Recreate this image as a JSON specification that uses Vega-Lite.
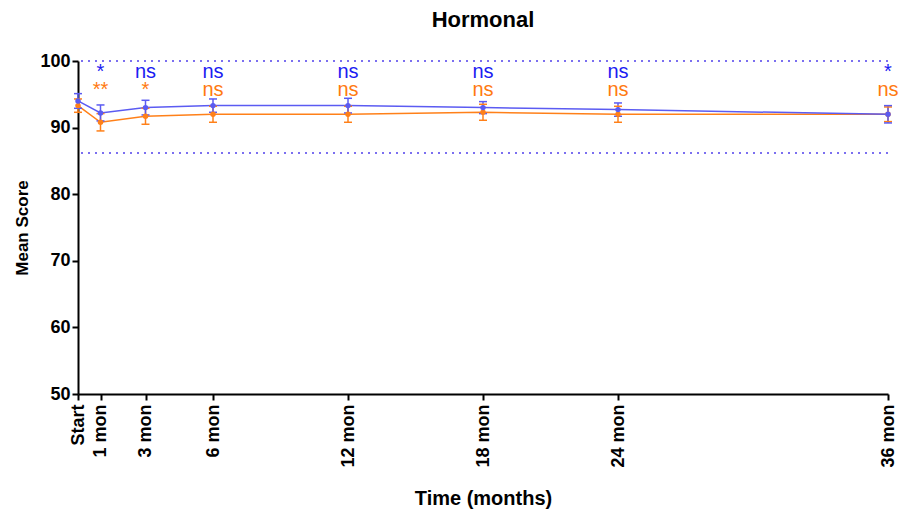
{
  "$schema": "https://vega.github.io/schema/vega-lite/v6.json",
  "width": 810,
  "height": 333,
  "autosize": {"type": "none"},
  "padding": {"left": 78, "top": 61, "right": 17, "bottom": 119},
  "background": "white",
  "title": {"text": "Hormonal", "fontSize": 22, "font": "Liberation Sans", "fontWeight": "bold", "color": "black", "anchor": "middle", "offset": 20},
  "resolve": {"scale": {"color": "independent"}},
  "config": {
    "view": {"stroke": null},
    "font": "Liberation Sans",
    "axis": {
      "grid": false,
      "domainColor": "black",
      "domainWidth": 2,
      "tickColor": "black",
      "tickWidth": 2,
      "tickSize": 6,
      "labelColor": "black",
      "labelFontWeight": "bold",
      "labelFontSize": 18,
      "labelFont": "Liberation Sans",
      "titleColor": "black",
      "titleFontWeight": "bold",
      "titleFont": "Liberation Sans"
    }
  },
  "datasets": {
    "series": [
      {"month": 0, "grp": "b", "mean": 93.3, "lo": 92.3, "hi": 94.3},
      {"month": 1, "grp": "b", "mean": 90.8, "lo": 89.5, "hi": 92.1},
      {"month": 3, "grp": "b", "mean": 91.7, "lo": 90.5, "hi": 92.9},
      {"month": 6, "grp": "b", "mean": 92.0, "lo": 90.8, "hi": 93.2},
      {"month": 12, "grp": "b", "mean": 92.0, "lo": 90.8, "hi": 93.2},
      {"month": 18, "grp": "b", "mean": 92.3, "lo": 91.1, "hi": 93.5},
      {"month": 24, "grp": "b", "mean": 92.0, "lo": 90.8, "hi": 93.2},
      {"month": 36, "grp": "b", "mean": 92.0, "lo": 90.9, "hi": 93.1},
      {"month": 0, "grp": "a", "mean": 94.0, "lo": 92.9, "hi": 95.1},
      {"month": 1, "grp": "a", "mean": 92.2, "lo": 91.0, "hi": 93.4},
      {"month": 3, "grp": "a", "mean": 93.0, "lo": 91.9, "hi": 94.1},
      {"month": 6, "grp": "a", "mean": 93.3, "lo": 92.3, "hi": 94.3},
      {"month": 12, "grp": "a", "mean": 93.3, "lo": 92.2, "hi": 94.4},
      {"month": 18, "grp": "a", "mean": 93.0, "lo": 92.1, "hi": 93.9},
      {"month": 24, "grp": "a", "mean": 92.7, "lo": 91.7, "hi": 93.7},
      {"month": 36, "grp": "a", "mean": 92.0, "lo": 90.7, "hi": 93.3}
    ],
    "notes": [
      {"month": 1, "grp": "a", "label": "*", "pos": 97.5},
      {"month": 3, "grp": "a", "label": "ns", "pos": 97.5},
      {"month": 6, "grp": "a", "label": "ns", "pos": 97.5},
      {"month": 12, "grp": "a", "label": "ns", "pos": 97.5},
      {"month": 18, "grp": "a", "label": "ns", "pos": 97.5},
      {"month": 24, "grp": "a", "label": "ns", "pos": 97.5},
      {"month": 36, "grp": "a", "label": "*", "pos": 97.5},
      {"month": 1, "grp": "b", "label": "**", "pos": 94.8},
      {"month": 3, "grp": "b", "label": "*", "pos": 94.8},
      {"month": 6, "grp": "b", "label": "ns", "pos": 94.8},
      {"month": 12, "grp": "b", "label": "ns", "pos": 94.8},
      {"month": 18, "grp": "b", "label": "ns", "pos": 94.8},
      {"month": 24, "grp": "b", "label": "ns", "pos": 94.8},
      {"month": 36, "grp": "b", "label": "ns", "pos": 94.8}
    ],
    "refs": [{"ref": 100}, {"ref": 86.2}]
  },
  "layer": [
    {
      "data": {"name": "refs"},
      "mark": {"type": "rule", "color": "#7b6ff0", "strokeWidth": 2, "strokeDash": [2, 5]},
      "encoding": {"y": {"field": "ref", "type": "quantitative", "scale": {"domain": [50, 100]}}}
    },
    {
      "data": {"name": "series"},
      "mark": {"type": "line", "strokeWidth": 1.5},
      "encoding": {
        "x": {"field": "month", "type": "quantitative",
          "scale": {"domain": [0, 36], "nice": false, "zero": false},
          "axis": {"values": [0, 1, 3, 6, 12, 18, 24, 36], "labelAngle": -90, "labelAlign": "right", "labelBaseline": "middle", "labelPadding": 4,
            "labelExpr": "datum.value == 0 ? 'Start' : datum.value + ' mon'",
            "title": "Time (months)", "titleFontSize": 20, "titlePadding": 21}},
        "y": {"field": "mean", "type": "quantitative",
          "scale": {"domain": [50, 100], "nice": false, "zero": false},
          "axis": {"values": [50, 60, 70, 80, 90, 100], "title": "Mean Score", "titleFontSize": 17, "titlePadding": 8}},
        "color": {"field": "grp", "type": "nominal", "scale": {"domain": ["a", "b"], "range": ["#5b5bf2", "#ff8019"]}, "legend": null}
      }
    },
    {
      "data": {"name": "series"},
      "mark": {"type": "rule", "strokeWidth": 1.5},
      "encoding": {
        "x": {"field": "month", "type": "quantitative"},
        "y": {"field": "lo", "type": "quantitative"},
        "y2": {"field": "hi"},
        "color": {"field": "grp", "type": "nominal", "scale": {"domain": ["a", "b"], "range": ["#5b5bf2", "#ff8019"]}, "legend": null}
      }
    },
    {
      "data": {"name": "series"},
      "mark": {"type": "tick", "orient": "horizontal", "size": 8, "thickness": 1.5, "opacity": 1},
      "encoding": {
        "x": {"field": "month", "type": "quantitative"},
        "y": {"field": "lo", "type": "quantitative"},
        "color": {"field": "grp", "type": "nominal", "scale": {"domain": ["a", "b"], "range": ["#5b5bf2", "#ff8019"]}, "legend": null}
      }
    },
    {
      "data": {"name": "series"},
      "mark": {"type": "tick", "orient": "horizontal", "size": 8, "thickness": 1.5, "opacity": 1},
      "encoding": {
        "x": {"field": "month", "type": "quantitative"},
        "y": {"field": "hi", "type": "quantitative"},
        "color": {"field": "grp", "type": "nominal", "scale": {"domain": ["a", "b"], "range": ["#5b5bf2", "#ff8019"]}, "legend": null}
      }
    },
    {
      "data": {"name": "series"},
      "mark": {"type": "point", "filled": true, "size": 30, "opacity": 1, "shape": "circle"},
      "encoding": {
        "x": {"field": "month", "type": "quantitative"},
        "y": {"field": "mean", "type": "quantitative"},
        "color": {"field": "grp", "type": "nominal", "scale": {"domain": ["a", "b"], "range": ["#5b5bf2", "#ff8019"]}, "legend": null}
      }
    },
    {
      "data": {"name": "notes"},
      "mark": {"type": "text", "fontSize": 20, "font": "Liberation Sans", "baseline": "alphabetic", "align": "center"},
      "encoding": {
        "x": {"field": "month", "type": "quantitative"},
        "y": {"field": "pos", "type": "quantitative"},
        "text": {"field": "label"},
        "color": {"field": "grp", "type": "nominal", "scale": {"domain": ["a", "b"], "range": ["#1c1cf2", "#ff7a10"]}, "legend": null}
      }
    }
  ]
}
